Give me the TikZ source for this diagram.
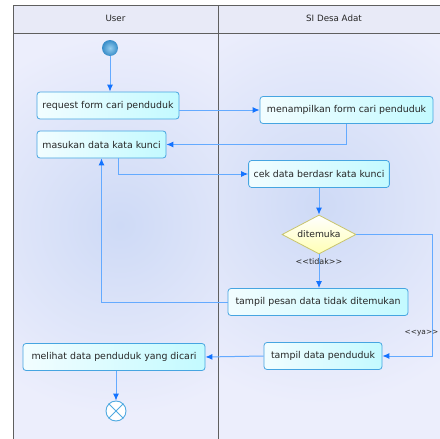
\documentclass[tikz,border=0pt]{standalone}
\usepackage{fontspec}
\newfontfamily\umlfont{DejaVu Sans}
\usetikzlibrary{arrows.meta,shapes.geometric,calc}

\definecolor{laneBg}{RGB}{236,238,252}
\definecolor{headBg}{RGB}{232,234,247}
\definecolor{laneShade}{RGB}{206,218,246}
\definecolor{frameLine}{RGB}{95,95,95}
\definecolor{boxLine}{RGB}{70,165,225}
\definecolor{boxLeft}{RGB}{242,253,255}
\definecolor{boxRight}{RGB}{195,250,255}
\definecolor{flowLine}{RGB}{100,170,255}
\definecolor{flowTip}{RGB}{20,115,255}
\definecolor{decLine}{RGB}{200,196,110}
\definecolor{decFill}{RGB}{255,255,180}
\definecolor{startLight}{RGB}{150,205,238}
\definecolor{startBlue}{RGB}{55,140,200}
\definecolor{endLine}{RGB}{80,170,225}

\begin{document}
\begin{tikzpicture}[x=1pt,y=-1pt,
  action/.style={draw=boxLine, line width=0.8pt, rounded corners=3pt,
    left color=boxLeft, right color=boxRight, minimum height=27pt,
    inner xsep=5pt, font=\umlfont\fontsize{9.4}{11}\selectfont, text=black!85},
  decision/.style={diamond, draw=decLine, line width=0.8pt,
    top color=white, bottom color=decFill, aspect=1.9, inner sep=1pt,
    minimum width=74pt, minimum height=39pt,
    font=\umlfont\fontsize{9.2}{11}\selectfont, text=black!85},
  flow/.style={draw=flowLine, line width=1pt,
    -{Latex[length=7pt,width=6pt,color=flowTip]}},
  guard/.style={font=\umlfont\fontsize{8}{10}\selectfont, text=black!85, inner sep=1pt},
  lanehead/.style={font=\umlfont\fontsize{8.7}{10}\selectfont, text=black!85},
  frame/.style={draw=frameLine, line width=0.9pt}
]
\useasboundingbox (0,0) rectangle (440,439);

% swimlane backgrounds
\fill[headBg] (13,5) rectangle (450,33);
\fill[laneBg] (13,33) rectangle (450,445);
\begin{scope}
  \clip (13,33) rectangle (218,445);
  \shade[inner color=laneShade, outer color=laneBg] (120,225) circle (190);
\end{scope}
\begin{scope}
  \clip (218,33) rectangle (450,445);
  \shade[inner color=laneShade, outer color=laneBg] (320,205) circle (200);
\end{scope}

% swimlane frame
\draw[frame] (13,445) -- (13,5) -- (450,5);
\draw[frame] (13,33) -- (450,33);
\draw[frame] (218,5) -- (218,445);
\node[lanehead] (laneUser) at (115.5,18.5) {User};
\node[lanehead] (laneSys) at (334,18.5) {SI Desa Adat};

% activities
\node[circle, minimum size=16pt, inner sep=0pt, inner color=startLight, outer color=startBlue] (start) at (110,48) {};
\node[action, minimum width=142pt] (request) at (108,105.5) {request form cari penduduk};
\node[action, minimum width=129pt] (masukan) at (101.5,144.5) {masukan data kata kunci};
\node[action, minimum width=173pt] (menampilkan) at (346.5,110) {menampilkan form cari penduduk};
\node[action, minimum width=140pt] (cek) at (319,174) {cek data berdasr kata kunci};
\node[decision] (dia) at (319,234.5) {ditemuka};
\node[action, minimum width=180pt] (tpesan) at (318,302) {tampil pesan data tidak ditemukan};
\node[action, minimum width=118pt] (tdata) at (323,356) {tampil data penduduk};
\node[action, minimum width=182pt] (melihat) at (114,357) {melihat data penduduk yang dicari};
\node[circle, draw=endLine, fill=white, line width=0.9pt, minimum size=20pt, inner sep=0pt] (end) at (116,411) {};
\draw[endLine, line width=0.9pt] (end.north east) -- (end.south west)
  (end.north west) -- (end.south east);

% control flow
\coordinate (yaBend) at (432,234.5);
\draw[flow] (start) -- (start |- request.north);
\draw[flow] (request.east |- menampilkan.west) -- (menampilkan.west);
\draw[flow] (menampilkan.south) |- (masukan.east);
\draw[flow] ([xshift=17pt]masukan.south) |- (cek.west);
\draw[flow] (cek.south) -- (dia.north);
\draw[flow] (dia.south) -- (dia.south |- tpesan.north);
\draw[flow] (tpesan.west) -| (masukan.south);
\draw[flow] (dia.east) -- (yaBend) |- (tdata.east);
\draw[flow] (tdata.west) -- (melihat.east);
\draw[flow] (melihat.south -| end.north) -- (end.north);

% guards
\node[guard] (tidakLbl) at (319,262) {<{}<tidak>{}>};
\node[guard, anchor=west, font=\umlfont\fontsize{7.4}{9}\selectfont] (yaLbl) at (403.5,333) {<{}<ya>{}>};
\end{tikzpicture}
\end{document}
